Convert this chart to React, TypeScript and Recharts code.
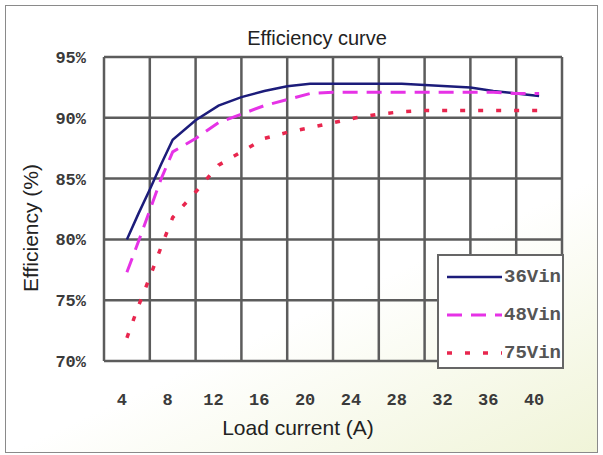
import { LineChart, Line, XAxis, YAxis, CartesianGrid, ReferenceLine, Legend, Label } from "recharts";

// load current (A) and measured efficiency (%) per input voltage
const loadCurrent = [4, 5, 6, 7, 8, 10, 12, 14, 16, 18, 20, 22, 24, 26, 28, 30, 32, 34, 36, 38, 40];
const eff36Vin = [80, 82.1, 84.1, 86.2, 88.2, 89.8, 91.0, 91.7, 92.2, 92.6, 92.8, 92.8, 92.8, 92.8, 92.8, 92.7, 92.6, 92.5, 92.2, 92.0, 91.8];
const eff48Vin = [77.3, 79.8, 82.4, 85.0, 87.2, 88.3, 89.6, 90.3, 91.0, 91.5, 92.0, 92.1, 92.1, 92.1, 92.1, 92.1, 92.1, 92.1, 92.1, 92.0, 92.0];
const eff75Vin = [71.9, 74.5, 76.9, 79.4, 81.8, 83.9, 86.1, 87.2, 88.3, 88.8, 89.2, 89.6, 90.0, 90.3, 90.5, 90.6, 90.6, 90.6, 90.6, 90.6, 90.6];

const xTicks = [4, 8, 12, 16, 20, 24, 28, 32, 36, 40];
const xGridLines = [2, 6, 10, 14, 18, 22, 26, 30, 34, 38, 42];
const yTicks = [70, 75, 80, 85, 90, 95];

const series = [
  { key: "v36", name: "36Vin", color: "#1c1c7a", dash: undefined, width: 2.5 },
  { key: "v48", name: "48Vin", color: "#e632e6", dash: "15 9", width: 3 },
  { key: "v75", name: "75Vin", color: "#e8264e", dash: "5 13", width: 3.5 },
];

const data = loadCurrent.map((a, i) => ({ a, v36: eff36Vin[i], v48: eff48Vin[i], v75: eff75Vin[i] }));

const GRID = "#5c5c5c";
const tickFont = { fontFamily: "Liberation Mono", fontWeight: 700, fontSize: 17, fill: "#3a3a3a" };
const titleFont = { fontFamily: "Liberation Sans", fontSize: 21, fill: "#222" };

function LegendBox() {
  return (
    <div
      style={{
        width: 127,
        height: 115,
        boxSizing: "border-box",
        border: "2px solid #666",
        background: "#fff",
        overflow: "hidden",
        paddingTop: 2,
      }}
    >
      {series.map((s) => (
        <div key={s.key} style={{ display: "flex", alignItems: "center", height: 38, paddingLeft: 8 }}>
          <svg width={57} height={10} style={{ flex: "none" }}>
            <line x1={0} y1={5} x2={55} y2={5} stroke={s.color} strokeWidth={s.width} strokeDasharray={s.dash} />
          </svg>
          <span style={{ fontFamily: "Liberation Mono", fontWeight: 700, fontSize: 19, color: "#555", whiteSpace: "nowrap" }}>
            {s.name}
          </span>
        </div>
      ))}
    </div>
  );
}

export default function App() {
  return (
    <div style={{ position: "absolute", left: 0, top: 0, width: 603, height: 455, background: "#fff" }}>
      <div
        style={{
          position: "absolute",
          left: 5,
          top: 5,
          width: 593,
          height: 448,
          boxSizing: "border-box",
          border: "1.5px solid #8a8a8a",
          background: "linear-gradient(155deg, #ffffff 62%, #f0f4d8 100%)",
        }}
      />
      <div
        style={{
          position: "absolute",
          left: 197,
          top: 26,
          width: 240,
          textAlign: "center",
          fontFamily: "Liberation Sans",
          fontSize: 20,
          lineHeight: "24px",
          color: "#222",
        }}
      >
        Efficiency curve
      </div>
      <LineChart
        width={603}
        height={455}
        data={data}
        margin={{ top: 57, right: 41, left: 0, bottom: 14 }}
        style={{ position: "absolute", left: 0, top: 0 }}
      >
        <CartesianGrid vertical={false} stroke={GRID} strokeWidth={2.5} />
        {xGridLines.map((g) => (
          <ReferenceLine key={g} x={g} stroke={GRID} strokeWidth={2.5} ifOverflow="extendDomain" />
        ))}
        <XAxis
          dataKey="a"
          type="number"
          domain={[2, 42]}
          ticks={xTicks}
          interval={0}
          height={80}
          axisLine={false}
          tickLine={false}
          tickSize={0}
          tickMargin={32}
          tick={{ ...tickFont, dx: -5 }}
        >
          <Label value="Load current (A)" position="insideBottom" offset={6} dx={-35} style={titleFont} />
        </XAxis>
        <YAxis
          type="number"
          domain={[70, 95]}
          ticks={yTicks}
          interval={0}
          width={104}
          axisLine={false}
          tickLine={false}
          tickSize={0}
          tickMargin={18}
          tickFormatter={(v) => `${v}%`}
          tick={tickFont}
        >
          <Label
            value="Efficiency (%)"
            position="center"
            angle={-90}
            dx={-21}
            dy={19}
            style={{ ...titleFont, textAnchor: "middle" }}
          />
        </YAxis>
        {series.map((s) => (
          <Line
            key={s.key}
            type="linear"
            dataKey={s.key}
            name={s.name}
            stroke={s.color}
            strokeWidth={s.width}
            strokeDasharray={s.dash}
            dot={false}
            activeDot={false}
            isAnimationActive={false}
          />
        ))}
        <Legend
          layout="vertical"
          align="center"
          verticalAlign="middle"
          content={() => <LegendBox />}
          wrapperStyle={{ left: 437, top: 254, width: 127, height: 115 }}
        />
      </LineChart>
    </div>
  );
}
